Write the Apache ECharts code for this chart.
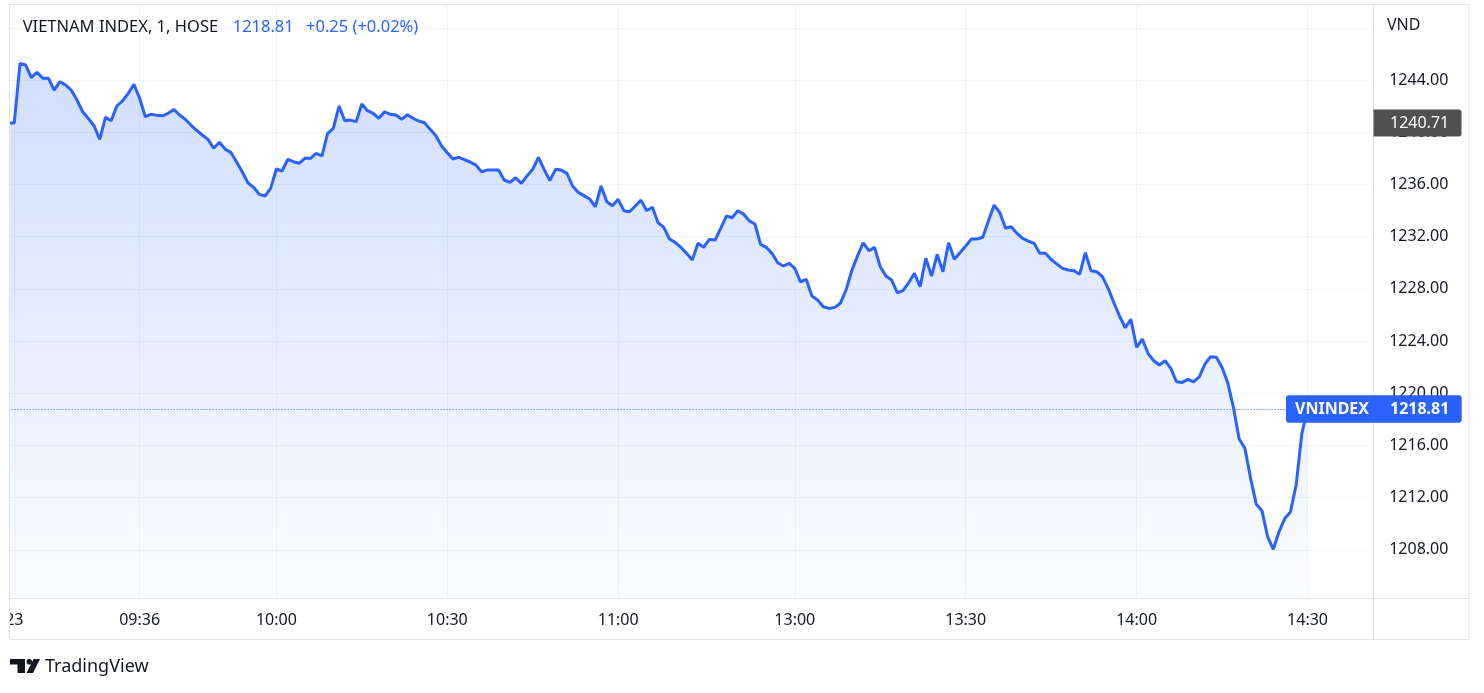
<!DOCTYPE html>
<html><head><meta charset="utf-8">
<script src="https://cdn.jsdelivr.net/npm/echarts@6/dist/echarts.min.js"></script>
<style>html,body{margin:0;padding:0;background:#fff}#c{width:1484px;height:693px}</style>
</head><body><div id="c"></div>
<script>
// ---------- data ----------
const prevClose = 1240.71;
const morningValues = [ // 09:14 .. 11:30
1240.71,1245.28,1245.15,1244.18,1244.59,1244.13,1244.13,1243.23,1243.87,1243.62,
1243.23,1242.47,1241.57,1241.05,1240.50,1239.45,1241.14,1240.88,1242.01,1242.41,
1242.98,1243.67,1242.60,1241.19,1241.37,1241.30,1241.26,1241.45,1241.75,1241.32,
1241.00,1240.55,1240.15,1239.79,1239.45,1238.77,1239.23,1238.71,1238.46,1237.74,
1236.97,1236.13,1235.78,1235.25,1235.11,1235.70,1237.18,1237.03,1237.92,1237.74,
1237.62,1238.00,1238.00,1238.38,1238.18,1239.92,1240.30,1242.01,1240.88,1240.93,
1240.81,1242.16,1241.65,1241.45,1241.07,1241.57,1241.37,1241.32,1240.99,1241.34,
1241.07,1240.86,1240.73,1240.22,1239.73,1238.94,1238.43,1237.95,1238.07,1237.90,
1237.72,1237.50,1236.97,1237.10,1237.10,1237.10,1236.34,1236.16,1236.51,1236.08,
1236.65,1237.16,1238.07,1237.16,1236.29,1237.16,1237.10,1236.85,1235.88,1235.39,
1235.14,1234.88,1234.29,1235.88,1234.68,1234.37,1234.86,1233.99,1233.91,1234.35,
1234.80,1233.99,1234.25,1233.07,1232.71,1231.82,1231.56,1231.18,1230.72,1230.21,
1231.49,1231.18,1231.79,1231.74,1232.64,1233.58,1233.45,1233.99,1233.73,1233.22,
1232.97,1231.41,1231.18,1230.72,1230.00,1229.75,1229.95
];
const afternoonValues = [ // 13:00 .. 14:30
1229.57,1228.54,1228.73,1227.45,1227.14,1226.63,1226.50,1226.58,1226.89,1227.91,
1229.39,1230.51,1231.53,1230.92,1231.18,1229.69,1228.98,1228.67,1227.70,1227.86,
1228.47,1229.19,1228.16,1230.34,1228.98,1230.64,1229.31,1231.53,1230.26,1230.77,
1231.28,1231.82,1231.82,1231.95,1233.22,1234.42,1233.83,1232.64,1232.76,1232.25,
1231.87,1231.66,1231.49,1230.72,1230.72,1230.25,1229.90,1229.57,1229.44,1229.39,
1229.11,1230.77,1229.39,1229.31,1228.93,1228.04,1226.94,1225.92,1225.02,1225.66,
1223.52,1224.15,1223.06,1222.49,1222.16,1222.49,1221.91,1220.88,1220.83,1221.06,
1220.88,1221.26,1222.24,1222.80,1222.75,1221.98,1220.80,1218.90,1216.50,1215.78,
1213.50,1211.50,1211.00,1209.00,1208.04,1209.40,1210.40,1210.90,1212.97,1216.90,
1218.81
];
const yTickValues = [1208,1212,1216,1220,1224,1228,1232,1236,1240,1244,1248];
const yLabelValues = [1208,1212,1216,1220,1224,1228,1232,1236,1240,1244];
const xTickLabels = {'09:14':'23','09:36':'09:36','10:00':'10:00','10:30':'10:30','11:00':'11:00',
  '13:00':'13:00','13:30':'13:30','14:00':'14:00','14:30':'14:30'};
const titleText = 'VIETNAM INDEX, 1, HOSE';
const lastText = '1218.81';
const changeText = '+0.25 (+0.02%)';
const seriesName = 'VNINDEX';
const currency = 'VND';

// ---------- build ----------
function minutes(from, to) {
  const [h1, m1] = from.split(':').map(Number), [h2, m2] = to.split(':').map(Number);
  const out = [];
  for (let t = h1 * 60 + m1; t <= h2 * 60 + m2; t++) {
    out.push(String(Math.floor(t / 60)).padStart(2, '0') + ':' + String(t % 60).padStart(2, '0'));
  }
  return out;
}
const categories = ['prev'].concat(minutes('09:14', '11:30'), minutes('13:00', '14:30'), minutes('14:31', '14:41'));
const values = [prevClose].concat(morningValues, afternoonValues);
const lastValue = afternoonValues[afternoonValues.length - 1];

const FONT = '"Noto Sans", "Open Sans", sans-serif';
const TEXT = '#131722';
const BLUE = '#2962ff';
const chart = echarts.init(document.getElementById('c'), null, {renderer: 'canvas'});
const isTick = (i, v) => Object.prototype.hasOwnProperty.call(xTickLabels, v);

chart.setOption({
  animation: false,
  backgroundColor: '#ffffff',
  grid: {left: 8.6, right: 113.8, top: 5, bottom: 95, containLabel: false, outerBoundsMode: 'none'},
  xAxis: {
    type: 'category', data: categories, boundaryGap: false,
    axisLine: {show: false}, axisTick: {show: false},
    axisLabel: {interval: isTick, formatter: v => xTickLabels[v] || '', color: TEXT,
      fontSize: 16, fontFamily: FONT, margin: 14, showMinLabel: true, showMaxLabel: true, hideOverlap: false},
    splitLine: {show: true, interval: isTick, lineStyle: {color: '#f0f3fa', width: 1}}
  },
  yAxis: {
    type: 'value', position: 'right', min: 1204.31, max: 1249.75, scale: true,
    axisLine: {show: false},
    axisTick: {show: false, customValues: yTickValues},
    axisLabel: {customValues: yLabelValues, formatter: v => Number(v).toFixed(2), color: TEXT,
      fontSize: 16, fontFamily: FONT, margin: 19},
    splitLine: {show: true, lineStyle: {color: '#f0f3fa', width: 1}}
  },
  series: [{
    name: seriesName, type: 'line', data: values, showSymbol: false, symbol: 'none', clip: true,
    lineStyle: {color: BLUE, width: 3}, itemStyle: {color: BLUE},
    areaStyle: {color: new echarts.graphic.LinearGradient(0, 0, 0, 1, [
      {offset: 0, color: 'rgba(41,98,255,0.30)'}, {offset: 1, color: 'rgba(41,98,255,0.02)'}])},
    markLine: {silent: true, symbol: ['none', 'none'], animation: false, label: {show: false},
      lineStyle: {color: BLUE, type: [1, 2], width: 1}, data: [{yAxis: lastValue}]}
  }]
});

const yPrev = chart.convertToPixel({yAxisIndex: 0}, prevClose);
const yLast = chart.convertToPixel({yAxisIndex: 0}, lastValue);

chart.setOption({graphic: [
  {type: 'rect', z: 100, silent: true, shape: {x: 0, y: 0, width: 9, height: 640}, style: {fill: '#fff'}},
  {type: 'rect', z: 101, silent: true, shape: {x: 9.5, y: 4.5, width: 1459.5, height: 635}, style: {fill: 'none', stroke: '#e0e3eb', lineWidth: 1}},
  {type: 'line', z: 101, silent: true, shape: {x1: 9.5, y1: 598.5, x2: 1469, y2: 598.5}, style: {stroke: '#e0e3eb', lineWidth: 1}},
  {type: 'line', z: 101, silent: true, shape: {x1: 1373.5, y1: 4.5, x2: 1373.5, y2: 639.5}, style: {stroke: '#e0e3eb', lineWidth: 1}},
  // header
  {type: 'text', z: 110, x: 22.7, y: 27.5, style: {text: titleText, fill: TEXT, font: '16.5px ' + FONT, verticalAlign: 'middle', textVerticalAlign: 'middle'}},
  {type: 'text', z: 110, x: 232.7, y: 27.5, style: {text: lastText, fill: BLUE, font: '16.5px ' + FONT, verticalAlign: 'middle', textVerticalAlign: 'middle'}},
  {type: 'text', z: 110, x: 306, y: 27.5, style: {text: changeText, fill: BLUE, font: '16.5px ' + FONT, verticalAlign: 'middle', textVerticalAlign: 'middle'}},
  {type: 'text', z: 110, x: 1387, y: 25, style: {text: currency, fill: TEXT, font: '16px ' + FONT, verticalAlign: 'middle', textVerticalAlign: 'middle'}},
  // previous close label
  {type: 'rect', z: 110, shape: {x: 1373.5, y: yPrev - 13.5, width: 88, height: 27, r: [0, 3, 3, 0]}, style: {fill: '#515151'}},
  {type: 'text', z: 111, x: 1390, y: yPrev, style: {text: prevClose.toFixed(2), fill: '#fff', font: '16px ' + FONT, verticalAlign: 'middle', textVerticalAlign: 'middle'}},
  // last value label
  {type: 'rect', z: 110, shape: {x: 1286, y: yLast - 13.5, width: 175.7, height: 27.5, r: 3}, style: {fill: BLUE}},
  {type: 'text', z: 111, x: 1295, y: yLast + 0.5, style: {text: seriesName, fill: '#fff', font: 'bold 16px ' + FONT, verticalAlign: 'middle', textVerticalAlign: 'middle'}},
  {type: 'text', z: 111, x: 1390, y: yLast + 0.5, style: {text: lastValue.toFixed(2), fill: '#fff', font: 'bold 16px ' + FONT, verticalAlign: 'middle', textVerticalAlign: 'middle'}},
  // TradingView logo
  {type: 'polygon', z: 110, shape: {points: [[10, 659], [25, 659], [25, 673], [17.5, 673], [17.5, 664.5], [10, 664.5]]}, style: {fill: TEXT}},
  {type: 'circle', z: 110, shape: {cx: 29.3, cy: 661.8, r: 2.8}, style: {fill: TEXT}},
  {type: 'polygon', z: 110, shape: {points: [[33.5, 659], [40, 659], [33, 673], [26.5, 673]]}, style: {fill: TEXT}},
  {type: 'text', z: 110, x: 45, y: 667, style: {text: 'TradingView', fill: TEXT, font: '18px ' + FONT, verticalAlign: 'middle', textVerticalAlign: 'middle'}}
]});
</script></body></html>
